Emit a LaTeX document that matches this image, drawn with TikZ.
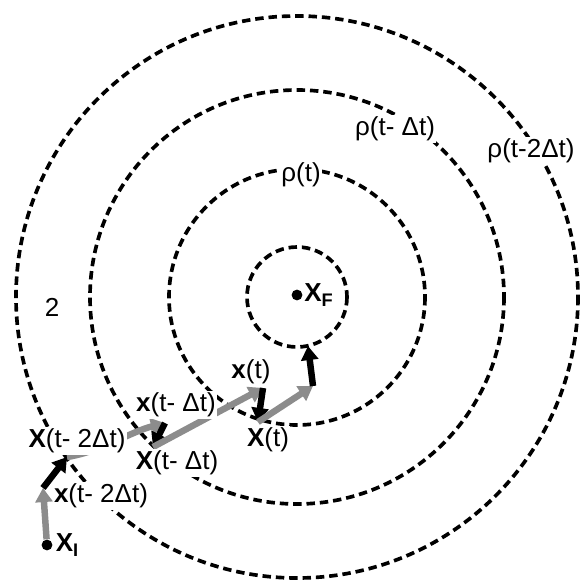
\documentclass[tikz,border=0pt]{standalone}
\usepackage{fontspec}
\setmainfont{Liberation Sans}
\usetikzlibrary{arrows.meta,positioning}

\tikzset{
  ring/.style={dash pattern=on 6pt off 3.5pt, line width=2.6pt},
  guess/.style={black!45, line width=4.6pt, -{Triangle[length=10pt,width=12pt]}},
  fix/.style={black, line width=4.6pt, -{Triangle[length=10pt,width=12pt]}},
  lbl/.style={fill=white, inner sep=1pt, font=\fontsize{18.5}{21}\selectfont},
  dot/.style={circle, fill=black, inner sep=0pt, minimum size=0.27cm}
}

\begin{document}
\begin{tikzpicture}[x=0.025cm,y=-0.025cm]
  \useasboundingbox (0,0) rectangle (580,580);
  \coordinate (C) at (297,297);
  % Draw the dashed rings round the target
  \foreach \r in {50,128,207,281} {
    \draw[ring] (C) circle[radius=\r];
  }
  % end points of the steps
  \node[dot] (XI) at (47,545) {};
  \node[dot] (XF) at (297,295) {};
  \coordinate (a1) at (43,488);
  \coordinate (X2) at (67,457);
  \coordinate (a2) at (165,423);
  \coordinate (X1) at (153,447);
  \coordinate (a3) at (263,388);
  \coordinate (X0) at (258,422);
  \coordinate (a4) at (313,386);
  \coordinate (XE) at (308,346);
  % gray = free step, black = pull back onto the ring
  \draw[guess] (XI) -- (a1);
  \draw[fix] (a1) -- (X2);
  \draw[guess] (X2) .. controls (100,452) and (130,432) .. (a2);
  \draw[fix] (a2) -- (X1);
  \draw[guess] (X1) -- (a3);
  \draw[fix] (a3) -- (X0);
  \draw[guess] (X0) -- (a4);
  \draw[fix] (a4) -- (XE);
  % labels
  \node[lbl, right=0pt of XF] (lXF) {\textbf{X\textsubscript{F}}};
  \node[lbl, right=1pt of XI] (lXI) {\textbf{X\textsubscript{I}}};
  \node[lbl] (lrho0) at (301,175) {ρ(t)};
  \node[lbl] (lrho1) at (395,129) {ρ(t- Δt)};
  \node[lbl] (lrho2) at (531,151) {ρ(t-2Δt)};
  \node[lbl] (ltwo) at (52,307) {2};
  \node[lbl] (lX2) at (77,441) {\textbf{X}(t- 2Δt)};
  \node[lbl] (lx2) at (101,496) {\textbf{x}(t- 2Δt)};
  \node[lbl] (lx1) at (176,405) {\textbf{x}(t- Δt)};
  \node[lbl] (lX1) at (177,463) {\textbf{X}(t- Δt)};
  \node[lbl] (lx0) at (251,372) {\textbf{x}(t)};
  \node[lbl] (lX0) at (268,440) {\textbf{X}(t)};
\end{tikzpicture}
\end{document}
